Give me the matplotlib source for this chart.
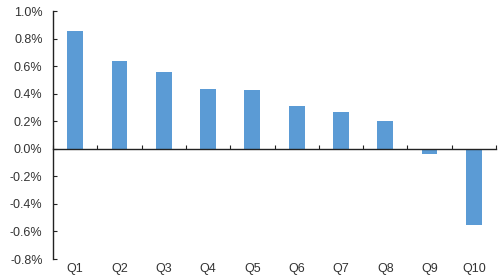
import matplotlib
matplotlib.use("Agg")
import matplotlib.pyplot as plt
import numpy as np
from matplotlib.ticker import FuncFormatter

categories = ["Q1", "Q2", "Q3", "Q4", "Q5", "Q6", "Q7", "Q8", "Q9", "Q10"]
values = [0.857, 0.64, 0.56, 0.433, 0.423, 0.314, 0.266, 0.20, -0.038, -0.551]
yticks = [-0.8, -0.6, -0.4, -0.2, 0.0, 0.2, 0.4, 0.6, 0.8, 1.0]

plt.rcParams['font.family'] = ['Liberation Sans', 'DejaVu Sans']

fig = plt.figure(figsize=(5.04, 2.79), dpi=100)
ax = fig.add_axes([53/504, 1-259/279, (496-53)/504, (259-11)/279])

x = np.arange(len(categories))
ax.bar(x, values, width=0.355, color='#5B9BD5', zorder=2)

ax.set_xlim(-0.5, len(categories) - 0.5)
ax.set_ylim(-0.8, 1.0)
ax.set_yticks(yticks)
ax.yaxis.set_major_formatter(FuncFormatter(lambda v, p: f"{v:.1f}%"))

for s in ['top', 'right']:
    ax.spines[s].set_visible(False)
ax.spines['bottom'].set_position(('data', 0))
ax.spines['bottom'].set_color('#222222')
ax.spines['left'].set_color('#222222')
ax.spines['bottom'].set_linewidth(1.0)
ax.spines['left'].set_linewidth(1.0)
ax.spines['bottom'].set_zorder(3)

ax.set_xticks(np.arange(len(categories) + 1) - 0.5)
ax.set_xticklabels([])
ax.tick_params(axis='x', direction='in', length=3, color='#222222')
ax.tick_params(axis='y', direction='in', length=3, color='#222222',
               labelsize=9, labelcolor='#333333', pad=7.5)

for xi, lab in zip(x, categories):
    ax.text(xi, -0.04, lab, transform=ax.get_xaxis_transform(),
            ha='center', va='center', fontsize=9, color='#333333')

fig.savefig("out.png", dpi=100)
